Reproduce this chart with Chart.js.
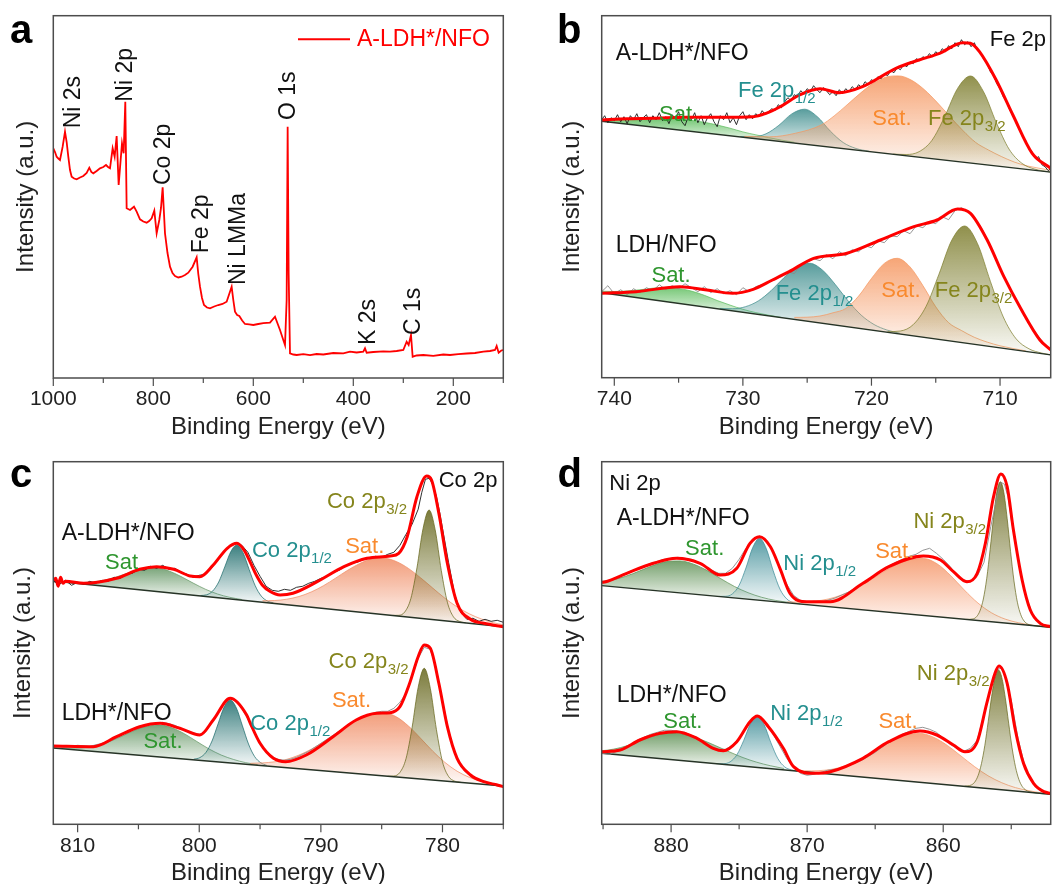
<!DOCTYPE html>
<html>
<head>
<meta charset="utf-8">
<script src="https://cdn.jsdelivr.net/npm/chart.js@4.4.0/dist/chart.umd.min.js"></script>
<style>
  body { margin: 0; background: #fff; width: 1053px; height: 884px; position: relative; overflow: hidden; }
  canvas { position: absolute; }
</style>
</head>
<body>
<canvas id="ca" width="520" height="442" style="left:0;top:0"></canvas>
<canvas id="cb" width="533" height="442" style="left:520px;top:0"></canvas>
<canvas id="cc" width="520" height="444" style="left:0;top:440px"></canvas>
<canvas id="cd" width="533" height="444" style="left:520px;top:440px"></canvas>
<script>
const FONT = '"Liberation Sans", Arial, Helvetica, sans-serif';
const GREEN = '#2f962f', TEAL = '#248f8f', ORANGE = '#f98a2e', OLIVE = '#85851c', INK = '#111';

// ---- (a) survey, [binding energy, intensity] ----
const aSurvey = [
  [1000,229.7],[996.6,226],[993.3,221.3],[989.9,219.5],[986.6,218],[981.3,231.3],[976.6,246.3],[973.3,236],[970,221.3],
  [966.6,208],[963.3,201.3],[958.3,199.5],[953.3,198.7],[946.6,200.5],[940,202],[933.3,205],[928,210.3],[924,206],
  [920,204.7],[913.3,207],[906.6,209.7],[900,211],[894.6,213],[890.6,211],[886.6,209.7],[881.3,229.7],[877.3,221.3],
  [873.3,242],[869.3,193],[865.3,218],[862.6,234.7],[859.3,224.7],[856,276.3],[853.3,169.7],[846.6,168],[838.6,171.3],
  [833.3,166.3],[826.6,158.7],[820,156.5],[813.3,155.3],[808.3,157],[803.3,159.7],[798,167.3],[793.3,144.7],[788,158],
  [784.6,170],[781.3,190.7],[776.6,144.7],[771.6,125],[766.6,111.3],[761.6,105],[756.6,102],[750,100.5],[743.3,101.3],
  [736.6,103],[730,105.3],[721.3,111.3],[713.3,120.7],[710,104],[706.6,91.3],[702.6,80],[698.6,73],[692.6,70.5],
  [686.6,69.7],[678.3,71.5],[670,73],[661.6,74],[653.3,76.3],[643.3,91.3],[640,78],[636.6,66.3],[632.3,63],[628,62],
  [622.3,57.5],[616.6,54],[608.3,53.6],[600,53],[590,54],[580,54.8],[566.6,55.3],[556.6,61.3],[546.6,48],[540,38],
  [536.6,33],[533.3,78],[531.3,251.3],[529.3,104.7],[526.6,24.7],[520,23.5],[513.3,23],[500,23.8],[486.6,22.8],
  [473.3,24],[460,23.5],[440,25],[420,24.6],[406.6,26.3],[393.3,25.5],[380,26.3],[376.6,29.7],[373.3,25.3],[360,26],
  [340,26.7],[326.6,26.3],[313.3,27],[300,28],[293.3,36.3],[289.3,33],[284.6,43],[281.3,21.3],[273.3,22.5],[260,23],
  [240,22.2],[220,23.5],[206.6,23],[190,23.8],[173.3,24.5],[156.6,25],[140,26.3],[126.6,27],[116.6,28],[113.3,32],
  [109.3,25.3],[104,27.5],[100,28]
];

// ---- (b) Fe 2p ----
const bTopBase = [[740.98,256.5],[706.06,205.6]];
const bTopGreen = [[740.98,258],[740,257.5],[739,257.5],[738,257.4],[737,258.3],[736,258.5],[735,258.4],[734,257.3],[733,255.4],
  [732,252.7],[731,249.5],[730,245.8],[729,242.9],[728,240.1],[727,237.6],[726,235.4]];
const bTopTeal = [[730.2,241.1],[729.2,240.9],[728.2,243.9],[727.2,252.4],[726.2,263.8],[725.2,268.5],[724.2,260.9],[723.2,246.6],
  [722.2,235.2],[721.2,229.2],[720.2,226.5]];
const bTopOrange = [[729.9,241.3],[727.9,240.9],[725.9,244.5],[723.9,252.8],[722.9,261.8],[721.9,272.8],[720.9,284.1],[719.9,294.1],
  [718.9,300.5],[717.9,301.8],[716.9,297.6],[715.9,288.2],[714.9,275.4],[713.9,261.1],[712.9,247.3],[711.9,235.3],[710.9,227.7],
  [709.9,221.2],[708.9,215.7],[707.9,211.8],[706.06,207.5]];
const bTopOlive = [[718.3,223.6],[717.3,223.2],[716.3,226],[715.3,237.3],[714.3,261.2],[713.3,289.3],[712.3,301.7],[711.3,286.4],
  [710.3,255.4],[709.3,228.6],[708.3,214.4],[707.3,208.6],[706.06,205.7]];
const bTopEnv = [[740.98,257.7],[739,259],[737,259.4],[734.4,260.4],[731.8,260.4],[729.2,261],[728.2,264.4],[727.1,271],[725.6,282.7],
  [724,289],[722.5,285],[720.7,291],[718.1,309.4],[716.3,317.7],[714.7,324.4],[712.9,335],[712.3,334.4],[711.6,326],[710.3,297.7],
  [709,262.7],[707.5,224.4],[706.06,209.4]];
const bTopRaw = [[740.98,258],[740.75,262],[740.5,255],[740.25,260],[740,257],[739.75,263],[739.5,256],[739.25,261],[739,254],
  [738.75,262],[738.5,258],[738.25,264],[738,256],[737.75,260],[737.5,263],[737.25,255],[737,262],[736.75,258],[736.5,265],
  [736.25,257],[736,261],[735.75,254],[735.5,263],[735.25,259],[735,266],[734.75,256],[734.5,252],[734.25,261],[734,258],
  [733.75,265],[733.5,255],[733.25,262],[733,253],[732.75,260],[732.5,264],[732.25,256],[732,251],[731.75,262],[731.5,258],
  [731.25,265],[731,255],[730.75,260],[730.5,253],[730.25,262],[730,266],[729.75,258],[729.5,263],[729.25,259],[729,264],
  [728.75,261],[728.5,267],[728.25,263],[728,266],[727.75,269],[727.5,267],[727.25,273],[727,270],[726.75,276],[726.5,280],
  [726.25,277],[726,283],[725.75,281],[725.5,287],[725.25,284],[725,289],[724.75,286],[724.5,292],[724.25,288],[724,285],
  [723.75,290],[723.5,287],[723.25,283],[723,286],[722.75,282],[722.5,288],[722.25,284],[722,289],[721.75,286],[721.5,291],
  [721.25,288],[721,293],[720.75,290],[720.5,296],[720.25,293],[720,298],[719.75,296],[719.5,301],[719.25,299],[719,304],
  [718.75,302],[718.5,307],[718.25,305],[718,310],[717.75,308],[717.5,313],[717.25,311],[717,316],[716.75,314],[716.5,319],
  [716.25,317],[716,321],[715.75,319],[715.5,324],[715.25,321],[715,326],[714.75,323],[714.5,329],[714.25,326],[714,332],
  [713.75,329],[713.5,335],[713.25,331],[713,338],[712.75,333],[712.5,336],[712.25,331],[712,335],[711.75,327],[711.5,324],
  [711.25,318],[711,314],[710.75,306],[710.5,302],[710.25,294],[710,289],[709.75,281],[709.5,276],[709.25,268],[709,262],
  [708.75,255],[708.5,249],[708.25,241],[708,237],[707.75,229],[707.5,226],[707.25,219],[707,221],[706.75,213],[706.5,211],
  [706.25,207],[706.06,209]];

const bBotBase = [[740.98,85],[706.06,22.8]];
const bBotGreen = [[740.98,86.5],[740,86.2],[739,86.8],[738,87.9],[737,89.5],[736,90.2],[735,89.3],[734,86.6],[733,82.4],[732,77.2],
  [731,72.6],[730,68.4],[729,65.1],[728,62.5],[727,60.2]];
const bBotTeal = [[731.8,69.3],[730.8,69],[729.8,71],[728.8,76.8],[727.8,87.1],[726.8,100.1],[725.8,111.1],[724.8,114.4],[723.8,107.5],
  [722.8,93],[721.8,76.5],[720.8,62.6],[719.8,53.2],[718.8,47.7],[717.8,44.5]];
const bBotOrange = [[726,60.3],[725,60.5],[724,61.7],[723,64.9],[722,69.2],[721,81.6],[720,99.2],[719,114.3],[718,119.4],[717,110.8],
  [716,92.1],[715,70.9],[714,55],[713,47.2],[712,40.4],[711,35.6],[710,31.9],[708,26.8]];
const bBotOlive = [[718.75,46],[717.75,46.7],[716.75,53.1],[715.75,71.4],[714.75,103.5],[713.75,137.6],[712.75,151.7],[711.75,134],
  [710.75,96.3],[709.75,60.8],[708.75,38.9],[707.75,28.9],[706.75,24.6],[706.06,22.9]];
const bBotEnv = [[740.98,84.4],[738.3,86],[734.9,91],[732.8,87.7],[730.8,84.4],[729.2,88.4],[727.7,97.7],[726.4,106],[724.5,119.4],
  [721.9,124.4],[719.3,137.7],[716.7,151],[714.9,157.7],[713.3,168.7],[712.3,164.4],[711,137.7],[709.7,101],[708.4,69.4],[706.9,37.7],
  [706.06,27.7]];
const bBotRaw = [[740.98,86],[740.5,92],[740,84],[739.5,88],[739,83],[738.5,89],[738,85],[737.5,90],[737,87],[736.5,93],[736,88],
  [735.5,92],[735,89],[734.5,94],[734,90],[733.5,86],[733,91],[732.5,85],[732,89],[731.5,84],[731,87],[730.5,83],[730,90],[729.5,86],
  [729,91],[728.5,93],[728,96],[727.5,99],[727,101],[726.5,106],[726,104],[725.5,113],[725,115],[724.5,119],[724,117],[723.5,123],
  [723,119],[722.5,126],[722,122],[721.5,128],[721,126],[720.5,132],[720,130],[719.5,137],[719,135],[718.5,142],[718,141],[717.5,147],
  [717,144],[716.5,152],[716,150],[715.5,156],[715,154],[714.5,161],[714,158],[713.5,167],[713,170],[712.5,166],[712,160],[711.5,151],
  [711,139],[710.5,125],[710,110],[709.5,96],[709,84],[708.5,71],[708,60],[707.5,50],[707,41],[706.5,33],[706.06,27]];

// ---- (c) Co 2p ----
const cTopBase = [[812,243.3],[775,197.6]];
const cTopGreen = [[812,243.4],[810.5,242.1],[809.5,241.8],[808.5,242.7],[807.5,245],[806.5,248.6],[805.5,252.8],[804.5,255.8],
  [803.5,256.3],[802.5,253.4],[801.5,247.8],[800.5,241.2],[799.5,235.1],[798.5,230.3],[797.5,227],[796.5,224.8]];
const cTopTeal = [[799.9,228.8],[799.4,229.5],[798.9,233.2],[798.4,242.3],[797.9,257.4],[797.4,272.8],[796.9,279.3],[796.4,271.6],
  [795.9,254.9],[795.4,238.6],[794.9,228.2],[794.4,223.3],[793.9,221.4]];
const cTopOrange = [[794.8,223.6],[793.8,223.8],[792.8,225.1],[791.8,227.8],[790.8,232.3],[789.8,238.5],[788.8,246.1],[787.8,254],
  [786.8,260.8],[785.8,265.3],[784.8,266],[783.8,262.8],[782.8,255.9],[781.8,246.5],[780.8,236.2],[779.8,226.1],[778.8,217.4],
  [777.8,210.5],[776.8,205.3],[775.8,201.5],[775,199.6]];
const cTopOlive = [[784.1,208.9],[783.6,209],[783.1,212.4],[782.6,225.8],[782.1,256.4],[781.6,295.6],[781.1,314.3],[780.6,294.4],
  [780.1,253.9],[779.6,222.1],[779.1,207.5],[778.6,202.9],[778.1,201.5]];
const cTopEnv = [[812,244],[811.8,246],[811.6,238],[811.4,247],[811.2,241],[811,243],[809.5,241],[806.8,246],[804.9,255],[803.5,257.6],
  [802.1,255],[800.75,248.3],[799.95,247.6],[798.85,259.3],[797.7,276],[796.9,281],[796.3,274],[795.8,262],[795.3,249],[794.8,239],
  [794.2,233],[793.35,229.3],[792.3,231],[790.3,242.6],[788.1,257.6],[786.2,266],[784.3,268.3],[783.6,271],[782.9,287.6],[782.1,327.6],
  [781.3,348.3],[780.9,344.3],[780.3,311],[779.6,261],[778.8,221],[777.7,205],[776.6,201],[775,197.6]];
const cTopRaw = [[812,243],[811.5,240],[811,244],[810.5,239],[810,242],[809.5,240],[809,243],[808.5,241],[808,244],[807.5,243],
  [807,247],[806.5,246],[806,250],[805.5,251],[805,255],[804.5,254],[804,258],[803.5,256],[803,259],[802.5,255],[802,256],[801.5,252],
  [801,250],[800.5,247],[800,249],[799.5,250],[799,256],[798.5,264],[798,272],[797.5,279],[797,281],[796.5,279],[796,272],[795.5,259],
  [795,248],[794.5,238],[794,234],[793.5,233],[793,235],[792.5,234],[792,237],[791.5,238],[791,241],[790.5,243],[790,246],[789.5,248],
  [789,252],[788.5,254],[788,258],[787.5,261],[787,262],[786.5,265],[786,266],[785.5,268],[785,267],[784.5,270],[784,272],[783.5,279],
  [783,290],[782.5,300],[782,315],[781.7,332],[781.4,345],[781.1,346],[780.8,340],[780.5,328],[780.2,310],[780,296],[779.5,262],
  [779,230],[778.5,212],[778,205],[777.5,206],[777,203],[776.5,205],[776,203],[775.5,204],[775,202]];

const cBotBase = [[812,76.3],[775,38.3]];
const cBotGreen = [[812,76.7],[811.2,76.1],[810.2,76.1],[809.2,77.1],[808.2,79.5],[807.2,83.6],[806.2,89],[805.2,94.5],[804.2,98.3],
  [803.2,99.2],[802.2,96.3],[801.2,90.4],[800.2,82.8],[799.2,75.4],[798.2,69.3],[797.2,64.9],[796.2,61.7],[795.2,59.7]];
const cBotTeal = [[800.45,65.1],[799.95,66.7],[799.45,71.9],[798.95,83.3],[798.45,100.5],[797.95,117.4],[797.45,124.3],[796.95,116.4],
  [796.45,98.5],[795.95,80.3],[795.45,67.8],[794.95,61.6],[794.45,58.9]];
const cBotOrange = [[795.8,61],[794.8,61.4],[793.8,62.5],[792.8,65],[791.8,69.2],[790.8,75],[789.8,82.3],[788.8,90.8],[787.8,99.1],
  [786.8,106.1],[785.8,110.5],[784.8,111.5],[783.8,107.5],[782.8,98.3],[781.8,86],[780.8,73.1],[779.8,61.9],[778.8,53.1],[777.8,47],
  [776.8,42.9],[775.8,40.3],[775,38.9]];
const cBotOlive = [[784.5,48.1],[784,48.3],[783.5,51.9],[783,65.6],[782.5,96.8],[782,136.9],[781.5,156],[781,135.9],[780.5,94.8],
  [780,62.5],[779.5,47.8],[779,43.2],[778.5,42]];
const cBotEnv = [[812,78.3],[808.7,77.6],[806.8,87.6],[804.9,97.6],[803.2,101],[801.6,96],[799.95,89.3],[798.85,104.3],[797.45,126],
  [796.1,109.3],[795.8,101],[795,81],[793.9,66],[792.9,62.6],[791.2,69.3],[789,87.6],[787.1,104.3],[785.4,111],[784.3,111.6],
  [783.5,117.6],[782.7,141],[782,167.6],[781.5,179.3],[781,176],[780.3,141],[779.6,97.6],[778.8,66],[777.7,49.3],[776.6,42.6],
  [775.5,39.3],[775,37.6]];
const cBotRaw = [[812,78],[811,77],[810,79],[809,78],[808,81],[807,85],[806,92],[805,96],[804,100],[803,102],[802,99],[801,93],
  [800,90],[799.5,92],[799,101],[798.5,111],[798,121],[797.5,126],[797,124],[796.5,116],[796,105],[795.5,92],[795,81],[794.5,72],
  [794,67],[793.5,65],[793,64],[792.5,65],[792,67],[791.5,70],[791,73],[790.5,77],[790,81],[789.5,85],[789,89],[788.5,93],[788,97],
  [787.5,101],[787,105],[786.5,108],[786,110],[785.5,112],[785,113],[784.5,113],[784,116],[783.5,122],[783,131],[782.5,148],[782,166],
  [781.5,177],[781,175],[780.5,155],[780,124],[779.5,94],[779,72],[778.5,58],[778,51],[777.5,47],[777,44],[776.5,42],[776,41],
  [775.5,40],[775,38]];

// ---- (d) Ni 2p ----
const dTopBase = [[885.1,238.7],[852.1,197]];
const dTopGreen = [[885.1,242.4],[884.34,244.2],[883.34,248],[882.34,253.2],[881.34,258.7],[880.34,262.7],[879.34,263.4],[878.34,260.1],
  [877.34,253.7],[876.34,245.6],[875.34,237.8],[874.34,231.6],[873.34,227],[872.34,223.9],[871.34,221.9]];
const dTopTeal = [[876.5,227.9],[876,228],[875.5,230.4],[875,239],[874.5,256.3],[874,276.7],[873.5,286],[873,275.5],[872.5,253.7],
  [872,235.2],[871.5,225.4],[871,221.6],[870.5,220.3]];
const dTopOrange = [[871.45,222.4],[870.45,222.2],[869.45,223.1],[868.45,225.3],[867.45,229.4],[866.45,235.6],[865.45,243.5],
  [864.45,251.9],[863.45,259.7],[862.45,264.7],[861.45,265.8],[860.45,260.5],[859.45,248.7],[858.45,234.3],[857.45,221.3],
  [856.45,211.5],[855.45,205.2],[854.45,201.5],[853.45,199.2],[852.1,197]];
const dTopOlive = [[858.3,204.9],[857.8,205.4],[857.55,207.6],[857.3,213.4],[857.05,225.3],[856.8,246],[856.55,275],[856.3,307],
  [856.05,332.8],[855.8,342.5],[855.55,332.2],[855.3,305.8],[855.05,273],[854.8,243.4],[854.55,222.1],[854.3,209.6],[854.05,203.2],
  [853.8,200.3],[853.3,198.6],[852.1,197]];
const dTopEnv = [[885.1,242],[884.8,242.6],[883.26,251],[881.3,261],[879.6,266],[877.87,261],[876.4,249.3],[875.17,256],[874.2,281],
  [873.5,287.6],[872.7,277.6],[872,256],[871.26,231],[870.03,222.6],[868.3,222.6],[865.9,241],[864,257.6],[861.45,268.3],[860.2,264.3],
  [859.25,252.6],[858.26,242.6],[857.5,251],[856.9,281],[856.3,327.6],[855.76,350.3],[855.3,337.6],[854.84,294.3],[854.2,244.3],
  [853.6,214.3],[852.87,201],[852.1,197.6]];
const dTopRaw = [[885.1,243],[884.5,244],[884,247],[883.5,250],[883,253],[882.5,255],[882,258],[881.5,261],[881,263],[880.5,265],
  [880,266],[879.5,267],[879,266],[878.5,265],[878,262],[877.5,258],[877,254],[876.5,251],[876,251],[875.5,256],[875,265],[874.5,276],
  [874,285],[873.5,288],[873,284],[872.5,272],[872,256],[871.5,240],[871,229],[870.5,224],[870,222],[869.5,223],[869,222],[868.5,224],
  [868,226],[867.5,229],[867,232],[866.5,236],[866,240],[865.5,245],[865,249],[864.5,254],[864,258],[863.5,262],[863,265],[862.5,268],
  [862,270],[861.5,274],[861,276],[860.5,271],[860,265],[859.5,258],[859,249],[858.5,244],[858,243],[857.5,248],[857,262],[856.5,298],
  [856,330],[855.75,342],[855.5,340],[855.25,328],[855,305],[854.5,266],[854,232],[853.5,212],[853,202],[852.5,199],[852.1,198]];

const dBotBase = [[885.1,71],[852.1,30]];
const dBotGreen = [[885.1,73.6],[884.71,74.1],[883.71,76.7],[882.71,81.1],[881.71,86.4],[880.71,90.4],[879.71,91.3],[878.71,88.9],
  [877.71,84.3],[876.71,78.5],[875.71,72.4],[874.71,66.7],[873.71,62.1],[872.71,58.6],[871.71,55.8]];
const dBotTeal = [[876.66,60.6],[876.16,60.6],[875.66,62.5],[875.16,69.6],[874.66,83.9],[874.16,100.7],[873.66,108.3],[873.16,99.5],
  [872.66,81.4],[872.16,65.9],[871.66,57.5],[871.16,54.4],[870.66,53.2]];
const dBotOrange = [[870.7,53.7],[869.7,53.4],[868.7,54.1],[867.7,56.4],[866.7,60.9],[865.7,67.5],[864.7,75.8],[863.7,83.8],[862.7,89.5],
  [861.7,90.9],[860.7,87],[859.7,78.9],[858.7,68.4],[857.7,57.7],[856.7,48.5],[855.7,41.6],[854.7,36.7],[853.7,33.6],[852.7,31.3],
  [852.1,30.1]];
const dBotOlive = [[858.44,38.1],[857.94,39.3],[857.69,42.1],[857.44,48.6],[857.19,60.6],[856.94,79],[856.69,103],[856.44,128],
  [856.19,147.2],[855.94,154.3],[855.69,146.6],[855.44,126.7],[855.19,101.1],[854.94,76.5],[854.69,57.5],[854.44,44.9],[854.19,37.8],
  [853.94,34.3],[853.44,31.9],[852.1,30]];
const dBotEnv = [[885.1,72.6],[883.75,74.3],[882.3,84.3],[880.8,91],[879.6,92.6],[878.1,86],[876.9,76],[876.16,73.6],[875.17,82.6],
  [874.2,102.6],[873.66,108.3],[872.85,97.6],[871.75,76],[871,57.6],[869.5,51],[868.3,52.6],[865.9,66],[864,82.6],[861.7,93.3],
  [860.47,89.3],[859.25,79.3],[858.4,72.6],[857.5,82.6],[856.8,121],[856.18,151.6],[855.9,158.3],[855.3,141],[854.7,94.3],[854.1,61],
  [853.36,41],[852.6,32.6],[852.1,31]];
const dBotRaw = [[885.1,71],[884.5,70],[884,73],[883.5,75],[883,79],[882.5,84],[882,87],[881.5,90],[881,92],[880.5,94],[880,94],
  [879.5,93],[879,92],[878.5,89],[878,86],[877.5,81],[877,77],[876.5,75],[876,75],[875.5,79],[875,86],[874.5,96],[874,105],[873.5,108],
  [873,101],[872.5,90],[872,78],[871.5,66],[871,57],[870.5,51],[870,49],[869.5,50],[869,52],[868.5,54],[868,55],[867.5,56],[867,59],
  [866.5,61],[866,64],[865.5,68],[865,72],[864.5,77],[864,82],[863.5,86],[863,90],[862.5,93],[862,96],[861.5,97],[861,95],[860.5,92],
  [860,86],[859.5,80],[859,76],[858.5,73],[858,76],[857.5,84],[857,110],[856.5,138],[856,155],[855.75,156],[855.5,150],[855,124],
  [854.5,86],[854,58],[853.5,43],[853,36],[852.5,32],[852.1,31]];

// fill colours (r,g,b) per panel
const bFill = {green: '95,190,95', teal: '60,140,140', orange: '245,150,95', olive: '125,125,45'};
const cFill = {green: '100,150,100', teal: '25,105,105', orange: '240,140,100', olive: '100,100,25'};
const dFill = {green: '95,145,85', teal: '60,140,150', orange: '245,150,105', olive: '105,105,30'};

function fade(rgb) {
  return c => {
    const ch = c.chart, ys = ch.scales && ch.scales.y;
    if (!ch.chartArea || !ys) return `rgba(${rgb},0.35)`;
    const v = c.dataset.data.map(p => p[1]);
    const top = ys.getPixelForValue(Math.max(...v));
    const bot = ys.getPixelForValue(Math.min(...v));
    const g = ch.ctx.createLinearGradient(0, top, 0, bot + 1);
    g.addColorStop(0, `rgba(${rgb},0.85)`);
    g.addColorStop(1, `rgba(${rgb},0.03)`);
    return g;
  };
}

function comp(data, rgb, baseIdx, order) {
  return {data, borderColor: `rgba(${rgb},0.9)`, borderWidth: 0.8, backgroundColor: fade(rgb),
    fill: {target: baseIdx}, cubicInterpolationMode: 'monotone', pointRadius: 0, order};
}

function spectrum(list, s, fillc) {
  const bi = list.length + 4;
  list.push(comp(s.green, fillc.green, bi, 6));
  list.push(comp(s.teal, fillc.teal, bi, 5));
  list.push(comp(s.orange, fillc.orange, bi, 4));
  list.push(comp(s.olive, fillc.olive, bi, 3));
  list.push({data: s.base, borderColor: '#263326', borderWidth: 1.4, pointRadius: 0, fill: false, order: 2});
  list.push({data: s.raw, borderColor: s.rawColor, borderWidth: 0.9, pointRadius: 0, fill: false, order: 1});
  list.push({data: s.env, borderColor: '#ff0000', borderWidth: 3, pointRadius: 0, fill: false,
    cubicInterpolationMode: 'monotone', order: 0});
}

const deco = {
  id: 'deco',
  afterDraw(chart, args, o) {
    const {ctx, chartArea: a, scales: {x, y}} = chart;
    ctx.save();
    ctx.strokeStyle = '#4d4d4d';
    ctx.lineWidth = 1.5;
    ctx.strokeRect(a.left, a.top, a.right - a.left, a.bottom - a.top);
    ctx.lineWidth = 1.2;
    x.ticks.forEach(t => {
      const px = x.getPixelForValue(t.value);
      ctx.beginPath();
      ctx.moveTo(px, a.bottom);
      ctx.lineTo(px, a.bottom + (t.label ? 8 : 5));
      ctx.stroke();
    });
    ctx.textAlign = 'left';
    ctx.textBaseline = 'alphabetic';
    ctx.fillStyle = '#000';
    ctx.font = `bold 40px ${FONT}`;
    ctx.fillText(o.letter, o.lx, o.ly);
    (o.notes || []).forEach(n => {
      const px = x.getPixelForValue(n.x), py = y.getPixelForValue(n.y);
      ctx.fillStyle = n.c;
      ctx.font = `${n.s || 22}px ${FONT}`;
      if (n.rot) {
        ctx.save();
        ctx.translate(px, py);
        ctx.rotate(-Math.PI / 2);
        ctx.fillText(n.t, 0, 0);
        ctx.restore();
        return;
      }
      ctx.fillText(n.t, px, py);
      if (n.sub) {
        const w = ctx.measureText(n.t).width;
        ctx.font = `15px ${FONT}`;
        ctx.fillText(n.sub, px + w + 0.5, py + 6);
      }
    });
    if (o.legend) {
      const L = o.legend;
      ctx.strokeStyle = '#ff0000';
      ctx.lineWidth = 2;
      ctx.beginPath();
      ctx.moveTo(L.x0, L.y);
      ctx.lineTo(L.x1, L.y);
      ctx.stroke();
      ctx.fillStyle = '#ff0000';
      ctx.font = `23px ${FONT}`;
      ctx.textBaseline = 'middle';
      ctx.fillText(L.text, L.tx, L.y);
    }
    ctx.restore();
  }
};

function makeChart(id, datasets, p, deco_opts) {
  return new Chart(document.getElementById(id), {
    type: 'line',
    data: {datasets},
    plugins: [deco],
    options: {
      responsive: false,
      animation: false,
      devicePixelRatio: 1,
      layout: {padding: {left: 0, top: p.top, right: p.right, bottom: 0}},
      plugins: {legend: {display: false}, tooltip: {enabled: false}, deco: deco_opts},
      elements: {point: {radius: 0}},
      scales: {
        x: {
          type: 'linear', reverse: true, min: p.xmin, max: p.xmax,
          afterFit: s => { s.height = p.xh; },
          grid: {display: false, drawTicks: false},
          border: {display: false},
          ticks: {
            stepSize: p.step, autoSkip: false, includeBounds: false, maxRotation: 0, padding: 9,
            color: '#222', font: {family: FONT, size: 21},
            callback: v => (Math.round(v) % p.major === 0 ? String(Math.round(v)) : '')
          },
          title: {display: true, text: 'Binding Energy (eV)', color: '#222',
            font: {family: FONT, size: 24}, padding: {top: 0, bottom: p.tpb}}
        },
        y: {
          min: 0, max: p.ymax,
          afterFit: s => { s.width = p.yw; },
          grid: {display: false, drawTicks: false},
          border: {display: false},
          ticks: {display: false},
          title: {display: true, text: 'Intensity (a.u.)', color: '#222',
            font: {family: FONT, size: 24}, padding: {top: p.ytp, bottom: 0}}
        }
      }
    }
  });
}

// (a)
makeChart('ca', [{data: aSurvey, borderColor: '#ff0000', borderWidth: 1.8, pointRadius: 0, fill: false, tension: 0}],
  {xmin: 100, xmax: 1000, step: 100, major: 200, top: 15.7, right: 16.7, yw: 53.3, xh: 64, ymax: 362.3, tpb: 0.5, ytp: 12},
  {letter: 'a', lx: 10, ly: 42.7,
    legend: {x0: 298, x1: 350, y: 39.3, tx: 357, text: 'A-LDH*/NFO'},
    notes: [
      {x: 946.6, y: 249.7, t: 'Ni 2s', c: INK, s: 23, rot: true},
      {x: 843.6, y: 276.3, t: 'Ni 2p', c: INK, s: 23, rot: true},
      {x: 767, y: 193, t: 'Co 2p', c: INK, s: 23, rot: true},
      {x: 690.2, y: 124.7, t: 'Fe 2p', c: INK, s: 23, rot: true},
      {x: 617, y: 93, t: 'Ni LMMa', c: INK, s: 23, rot: true},
      {x: 517, y: 258, t: 'O 1s', c: INK, s: 23, rot: true},
      {x: 357, y: 33, t: 'K 2s', c: INK, s: 23, rot: true},
      {x: 267, y: 43, t: 'C 1s', c: INK, s: 23, rot: true}
    ]});

// (b)
const bSets = [];
spectrum(bSets, {green: bTopGreen, teal: bTopTeal, orange: bTopOrange, olive: bTopOlive, base: bTopBase,
  raw: bTopRaw, env: bTopEnv, rawColor: '#1a1a1a'}, bFill);
spectrum(bSets, {green: bBotGreen, teal: bBotTeal, orange: bBotOrange, olive: bBotOlive, base: bBotBase,
  raw: bBotRaw, env: bBotEnv, rawColor: '#8a8a8a'}, bFill);
makeChart('cb', bSets,
  {xmin: 706.06, xmax: 740.98, step: 5, major: 10, top: 15.7, right: 2.3, yw: 81.7, xh: 64.3, ymax: 362, tpb: 0.5, ytp: 37.6},
  {letter: 'b', lx: 37, ly: 42.7, notes: [
    {x: 739.89, y: 317.7, t: 'A-LDH*/NFO', c: INK, s: 23},
    {x: 710.8, y: 331.7, t: 'Fe 2p', c: INK},
    {x: 736.52, y: 256.7, t: 'Sat.', c: GREEN},
    {x: 730.38, y: 281, t: 'Fe 2p', sub: '1/2', c: TEAL},
    {x: 719.93, y: 252.7, t: 'Sat.', c: ORANGE},
    {x: 715.6, y: 252.7, t: 'Fe 2p', sub: '3/2', c: OLIVE},
    {x: 739.89, y: 126, t: 'LDH/NFO', c: INK, s: 23},
    {x: 737.11, y: 96, t: 'Sat.', c: GREEN},
    {x: 727.45, y: 77.7, t: 'Fe 2p', sub: '1/2', c: TEAL},
    {x: 719.23, y: 81, t: 'Sat.', c: ORANGE},
    {x: 715.08, y: 81, t: 'Fe 2p', sub: '3/2', c: OLIVE}
  ]});

// (c)
const cSets = [];
spectrum(cSets, {green: cTopGreen, teal: cTopTeal, orange: cTopOrange, olive: cTopOlive, base: cTopBase,
  raw: cTopRaw, env: cTopEnv, rawColor: '#1a1a1a'}, cFill);
spectrum(cSets, {green: cBotGreen, teal: cBotTeal, orange: cBotOrange, olive: cBotOlive, base: cBotBase,
  raw: cBotRaw, env: cBotEnv, rawColor: '#8a8a8a'}, cFill);
makeChart('cc', cSets,
  {xmin: 775, xmax: 812, step: 5, major: 10, top: 21.7, right: 16.7, yw: 53.3, xh: 59.7, ymax: 362.6, tpb: -3.8, ytp: 8.6},
  {letter: 'c', lx: 10, ly: 47.3, notes: [
    {x: 780.31, y: 337.6, t: 'Co 2p', c: INK},
    {x: 811.31, y: 284.3, t: 'A-LDH*/NFO', c: INK, s: 23},
    {x: 807.74, y: 255.3, t: 'Sat', c: GREEN},
    {x: 795.67, y: 267.3, t: 'Co 2p', sub: '1/2', c: TEAL},
    {x: 788.0, y: 271, t: 'Sat.', c: ORANGE},
    {x: 789.5, y: 316, t: 'Co 2p', sub: '3/2', c: OLIVE},
    {x: 811.31, y: 104.3, t: 'LDH*/NFO', c: INK, s: 23},
    {x: 804.59, y: 76, t: 'Sat.', c: GREEN},
    {x: 795.81, y: 94.3, t: 'Co 2p', sub: '1/2', c: TEAL},
    {x: 789.09, y: 117.6, t: 'Sat.', c: ORANGE},
    {x: 789.37, y: 156, t: 'Co 2p', sub: '3/2', c: OLIVE}
  ]});

// (d)
const dSets = [];
spectrum(dSets, {green: dTopGreen, teal: dTopTeal, orange: dTopOrange, olive: dTopOlive, base: dTopBase,
  raw: dTopRaw, env: dTopEnv, rawColor: '#8a8a8a'}, dFill);
spectrum(dSets, {green: dBotGreen, teal: dBotTeal, orange: dBotOrange, olive: dBotOlive, base: dBotBase,
  raw: dBotRaw, env: dBotEnv, rawColor: '#8a8a8a'}, dFill);
makeChart('cd', dSets,
  {xmin: 852.1, xmax: 885.1, step: 5, major: 10, top: 21.7, right: 2.3, yw: 81.7, xh: 59.7, ymax: 362.6, tpb: -3.8, ytp: 37.6},
  {letter: 'd', lx: 37.5, ly: 47.3, notes: [
    {x: 884.54, y: 334.3, t: 'Ni 2p', c: INK, s: 22},
    {x: 884.0, y: 299.3, t: 'A-LDH*/NFO', c: INK, s: 23},
    {x: 878.97, y: 269.3, t: 'Sat.', c: GREEN},
    {x: 871.75, y: 254.3, t: 'Ni 2p', sub: '1/2', c: TEAL},
    {x: 865.0, y: 266, t: 'Sat.', c: ORANGE},
    {x: 862.19, y: 296, t: 'Ni 2p', sub: '3/2', c: OLIVE},
    {x: 884.0, y: 122.6, t: 'LDH*/NFO', c: INK, s: 23},
    {x: 880.57, y: 96, t: 'Sat.', c: GREEN},
    {x: 872.72, y: 104.3, t: 'Ni 2p', sub: '1/2', c: TEAL},
    {x: 864.76, y: 96, t: 'Sat.', c: ORANGE},
    {x: 861.94, y: 144.3, t: 'Ni 2p', sub: '3/2', c: OLIVE}
  ]});
</script>
</body>
</html>
